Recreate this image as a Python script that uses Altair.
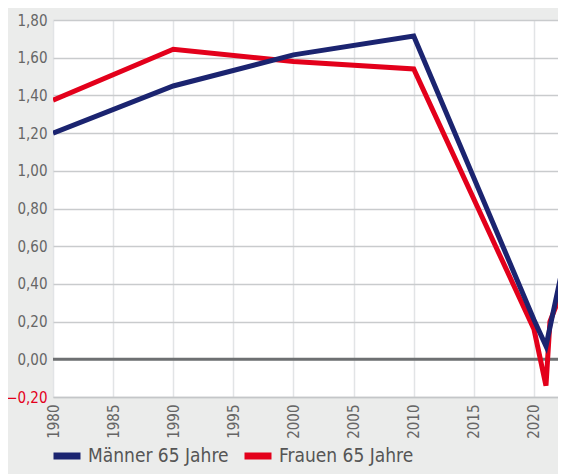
import altair as alt
import pandas as pd

series_names = ["Männer 65 Jahre", "Frauen 65 Jahre"]
series_colors = ["#1b2470", "#e3001b"]

years_men = [1980, 1990, 2000, 2010, 2020, 2021, 2023]
values_men = [1.20, 1.45, 1.615, 1.715, 0.21, 0.07, 0.67]

years_women = [1980, 1990, 2000, 2010, 2020, 2021, 2021.33, 2023]
values_women = [1.375, 1.645, 1.58, 1.54, 0.16, -0.14, 0.20, 0.47]

x_ticks = [1980, 1985, 1990, 1995, 2000, 2005, 2010, 2015, 2020]
y_ticks = [-0.2, 0.0, 0.2, 0.4, 0.6, 0.8, 1.0, 1.2, 1.4, 1.6, 1.8]

FONT = "'Liberation Sans Narrow', 'DejaVu Sans Condensed', Roboto, sans-serif"

df_m = pd.DataFrame({"Jahr": years_men, "Wert": values_men, "Serie": series_names[0]})
df_f = pd.DataFrame({"Jahr": years_women, "Wert": values_women, "Serie": series_names[1]})
df_zero = pd.DataFrame({"Wert": [0.0]})

x_scale = alt.Scale(domain=[1980, 2022.0], nice=False, zero=False)
y_scale = alt.Scale(domain=[-0.2, 1.8], nice=False, zero=False)
color_scale = alt.Scale(domain=series_names, range=series_colors)

x_axis = alt.Axis(
    values=x_ticks, format="d", labelAngle=270, labelFontSize=15, labelColor="#666666",
    labelFont=FONT, labelPadding=7, ticks=False, domain=True, domainColor="#c4c6c8",
    domainWidth=1.5, grid=True, gridColor="#e2e4e6", gridWidth=1.5, title=None,
    labelAlign="right", labelBaseline="middle", labelOverlap=False,
)
y_axis = alt.Axis(
    values=y_ticks, labelExpr="replace(format(datum.value, '.2f'), '.', ',')",
    labelColor=alt.expr("datum.value < 0 ? '#e3001b' : '#666666'"),
    labelFontSize=15, labelFont=FONT, labelPadding=6, ticks=False, domain=False,
    grid=True, gridColor="#c9cbcd", gridWidth=1.5, title=None, labelOverlap=False,
    labelBound=False, labelFlush=False,
)

base_x = alt.X("Jahr:Q", scale=x_scale, axis=x_axis)
base_y = alt.Y("Wert:Q", scale=y_scale, axis=y_axis)

zero_rule = alt.Chart(df_zero).mark_rule(color="#6e7072", strokeWidth=3).encode(
    y=alt.Y("Wert:Q", scale=y_scale, axis=y_axis)
)

legend = alt.Legend(
    orient="none", legendX=-3, legendY=419, direction="horizontal", title=None,
    symbolType="stroke", symbolSize=729, symbolStrokeWidth=7, labelFontSize=19,
    labelFont=FONT, labelColor="#555555", columnPadding=1, labelOffset=4, padding=0,
)

line_f = alt.Chart(df_f).mark_line(strokeWidth=5, clip=True, strokeJoin="miter").encode(
    x=base_x, y=base_y,
    color=alt.Color("Serie:N", scale=color_scale, legend=legend),
)
line_m = alt.Chart(df_m).mark_line(strokeWidth=5, clip=True, strokeJoin="miter").encode(
    x=base_x, y=base_y,
    color=alt.Color("Serie:N", scale=color_scale, legend=legend),
)

chart = (
    alt.layer(zero_rule, line_f, line_m)
    .properties(
        width=505, height=377,
        autosize=alt.AutoSizeParams(type="none"),
        padding={"left": 45, "top": 12, "right": 0, "bottom": 77},
        background="#ebeceb",
    )
    .configure_view(fill="white", stroke=None)
)

chart.save("out.html", embed_options={"renderer": "svg", "actions": False})
